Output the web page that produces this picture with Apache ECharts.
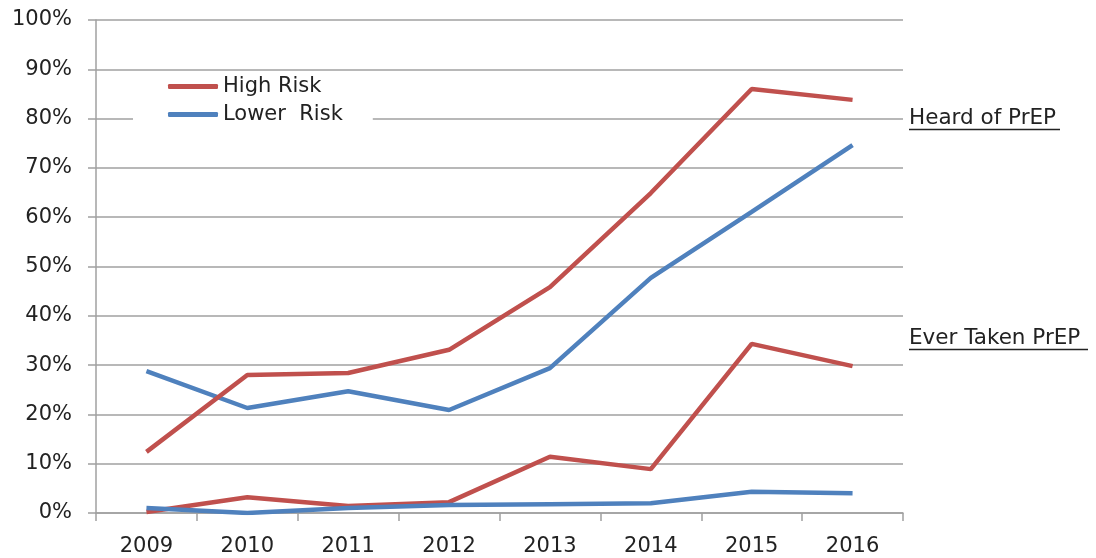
<!DOCTYPE html>
<html><head><meta charset="utf-8">
<script src="https://cdn.jsdelivr.net/npm/echarts@6/dist/echarts.min.js"></script>
<style>html,body{margin:0;padding:0;background:#fff}#c{width:1096px;height:558px}</style>
</head><body><div id="c"></div>
<script>
const years = ['2009','2010','2011','2012','2013','2014','2015','2016'];
const highHeard = [12.4, 28.0, 28.4, 33.1, 45.8, 64.9, 86.0, 83.8];
const lowerHeard = [28.8, 21.3, 24.7, 20.9, 29.4, 47.7, 61.1, 74.6];
const highTaken = [0.2, 3.2, 1.4, 2.2, 11.4, 8.9, 34.3, 29.8];
const lowerTaken = [1.0, 0.0, 1.0, 1.6, 1.8, 2.0, 4.3, 4.0];
const RED = '#C0504D', BLUE = '#4F81BD';
const FONT = 'DejaVu Sans';
const chart = echarts.init(document.getElementById('c'));
function s(name, data, color, z) {
  return { name, type: 'line', data, symbol: 'none', z,
    lineStyle: { color, width: 4.5 }, itemStyle: { color }, animation: false };
}
chart.setOption({
  animation: false,
  grid: { left: 96, right: 193, top: 20, bottom: 45 },
  legend: {
    data: ['High Risk', 'Lower Risk'], orient: 'vertical', left: 133, top: 74,
    backgroundColor: '#fff', padding: [2, 30, 2, 35], itemGap: 7,
    itemWidth: 50, itemHeight: 5, icon: 'roundRect',
    textStyle: { fontFamily: FONT, fontSize: 21, color: '#222' },
    formatter: n => n === 'Lower Risk' ? 'Lower\u00a0 Risk' : n
  },
  xAxis: {
    type: 'category', data: years, boundaryGap: true,
    axisLine: { lineStyle: { color: '#A0A0A0', width: 1.5 } },
    axisTick: { show: true, length: 8, lineStyle: { color: '#A0A0A0', width: 1.5 } },
    axisLabel: { fontFamily: FONT, fontSize: 21, color: '#222', margin: 23 }
  },
  yAxis: {
    type: 'value', min: 0, max: 100, interval: 10,
    axisLine: { show: true, lineStyle: { color: '#A0A0A0', width: 1.5 } },
    axisTick: { show: true, length: 8, lineStyle: { color: '#A0A0A0', width: 1.5 } },
    splitLine: { lineStyle: { color: '#A0A0A0', width: 1.5 } },
    axisLabel: { fontFamily: FONT, fontSize: 21, color: '#222', margin: 24, padding: [4, 0, 0, 0], formatter: '{value}%' }
  },
  graphic: [
    { type: 'text', x: 909, y: 118, style: { text: 'Heard of PrEP', font: '21.5px ' + FONT, fill: '#222', verticalAlign: 'middle' } },
    { type: 'line', shape: { x1: 909, y1: 129.5, x2: 1060, y2: 129.5 }, style: { stroke: '#222', lineWidth: 1.5 } },
    { type: 'text', x: 909, y: 338, style: { text: 'Ever Taken PrEP', font: '21.5px ' + FONT, fill: '#222', verticalAlign: 'middle' } },
    { type: 'line', shape: { x1: 909, y1: 349.5, x2: 1088, y2: 349.5 }, style: { stroke: '#222', lineWidth: 1.5 } }
  ],
  series: [
    s('High Risk', highHeard, RED, 3),
    s('Lower Risk', lowerHeard, BLUE, 2),
    s('High Risk', highTaken, RED, 2),
    s('Lower Risk', lowerTaken, BLUE, 3)
  ]
});
</script></body></html>
